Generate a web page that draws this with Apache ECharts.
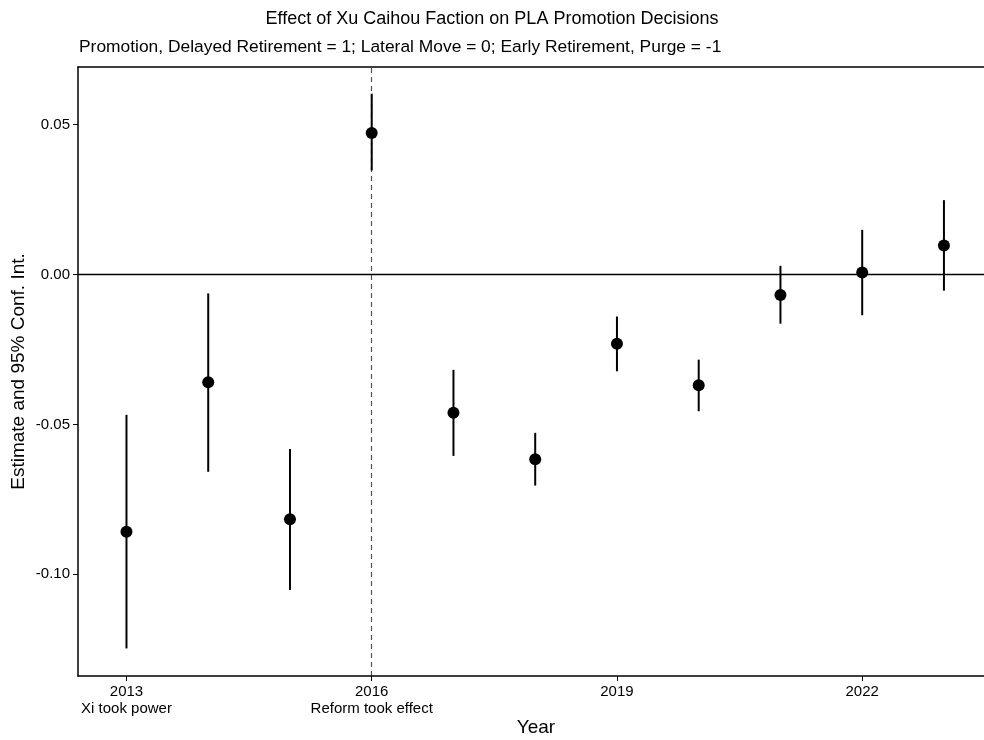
<!DOCTYPE html>
<html>
<head>
<meta charset="utf-8">
<script src="https://cdn.jsdelivr.net/npm/echarts@6/dist/echarts.min.js"></script>
<style>html,body{margin:0;padding:0;background:#fff}#c{width:984px;height:740px}</style>
</head>
<body>
<div id="c"></div>
<script>
const years = [2013, 2014, 2015, 2016, 2017, 2018, 2019, 2020, 2021, 2022, 2023];
const estimates = [-0.0858, -0.0359, -0.0816, 0.0472, -0.0461, -0.0616, -0.0231, -0.0369, -0.0068, 0.0007, 0.0097];
const ciLow = [-0.1247, -0.0658, -0.1052, 0.0347, -0.0605, -0.0704, -0.0323, -0.0456, -0.0164, -0.0136, -0.0054];
const ciHigh = [-0.0468, -0.0063, -0.0582, 0.0603, -0.0318, -0.0528, -0.0140, -0.0284, 0.0029, 0.0149, 0.0248];
const xTicks = [2013, 2016, 2019, 2022];
const xTickNotes = {2013: 'Xi took power', 2016: 'Reform took effect'};
const yTicks = [-0.10, -0.05, 0.00, 0.05];
const reformYear = 2016;

const FONT = '"Liberation Sans", Arial, Helvetica, sans-serif';
const chart = echarts.init(document.getElementById('c'));

const points = years.map((y, i) => [y, estimates[i]]);
const bars = years.map((y, i) => [y, ciLow[i], ciHigh[i]]);

chart.setOption({
  animation: false,
  backgroundColor: '#fff',
  title: [
    {text: 'Effect of Xu Caihou Faction on PLA Promotion Decisions', left: 'center', top: 5,
     textStyle: {fontFamily: FONT, fontSize: 18, fontWeight: 'normal', color: '#000'}},
    {text: 'Promotion, Delayed Retirement = 1; Lateral Move = 0; Early Retirement, Purge = -1', left: 74, top: 34,
     textStyle: {fontFamily: FONT, fontSize: 17.4, fontWeight: 'normal', color: '#000'}}
  ],
  grid: {left: 78, right: 0, top: 67, bottom: 64, containLabel: false, outerBoundsMode: 'none'},
  xAxis: [{
    type: 'value', min: 2012.407, max: 2023.49,
    name: 'Year', nameLocation: 'middle', nameGap: 42, nameMoveOverlap: false,
    nameTextStyle: {fontFamily: FONT, fontSize: 19, color: '#000', padding: [0, 0, 0, 10]},
    axisLine: {show: true, onZero: false, lineStyle: {color: '#000', width: 1.5}},
    axisTick: {show: true, length: 5, customValues: xTicks, lineStyle: {color: '#000', width: 1}},
    axisLabel: {customValues: xTicks, fontFamily: FONT, fontSize: 15, color: '#000', margin: 7, lineHeight: 17,
      formatter: v => xTickNotes[v] ? v + '\n' + xTickNotes[v] : String(v)},
    splitLine: {show: false}
  }, {
    type: 'value', position: 'top', min: 2012.407, max: 2023.49,
    axisLine: {show: true, onZero: false, lineStyle: {color: '#000', width: 1.5}},
    axisTick: {show: false}, axisLabel: {show: false}, splitLine: {show: false}
  }],
  yAxis: {
    type: 'value', min: -0.1339, max: 0.0692,
    name: 'Estimate and 95% Conf. Int.', nameLocation: 'middle', nameGap: 50, nameMoveOverlap: false,
    nameTextStyle: {fontFamily: FONT, fontSize: 19, color: '#000'},
    axisLine: {show: true, onZero: false, lineStyle: {color: '#000', width: 1.5}},
    axisTick: {show: true, length: 5, customValues: yTicks, lineStyle: {color: '#000', width: 1}},
    axisLabel: {customValues: yTicks, fontFamily: FONT, fontSize: 15, color: '#000', margin: 8,
      formatter: v => v.toFixed(2)},
    splitLine: {show: false}
  },
  series: [
    {
      type: 'line', xAxisIndex: 0, data: [], z: 0,
      markLine: {
        silent: true, symbol: 'none', label: {show: false}, z: 0,
        data: [
          {yAxis: 0, lineStyle: {color: '#000', width: 1.3, type: 'solid'}},
          {xAxis: reformYear, lineStyle: {color: '#555', width: 1.2, type: [5, 4]}}
        ]
      }
    },
    {
      type: 'custom', xAxisIndex: 0,
      data: bars,
      renderItem: (params, api) => {
        const p1 = api.coord([api.value(0), api.value(1)]);
        const p2 = api.coord([api.value(0), api.value(2)]);
        return {type: 'line', shape: {x1: p1[0], y1: p1[1], x2: p2[0], y2: p2[1]},
                style: {stroke: '#000', lineWidth: 2}};
      },
      encode: {x: 0, y: [1, 2]},
      z: 5
    },
    {
      type: 'scatter', xAxisIndex: 0, data: points,
      symbol: 'circle', symbolSize: 12,
      itemStyle: {color: '#000', opacity: 1}, z: 6
    }
  ]
});
</script>
</body>
</html>
